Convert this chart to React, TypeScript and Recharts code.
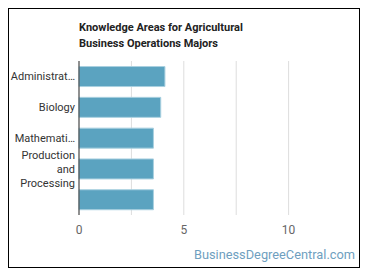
import { BarChart, Bar, XAxis, YAxis, CartesianGrid } from "recharts";

const categories = ["Administrat…", "Biology", "Mathemati…", "Production and Processing", ""];
const scores = [4.1, 3.9, 3.55, 3.55, 3.55];
const xTicks = [0, 2.5, 5, 7.5, 10];
const xMax = 12.5;

const data = categories.map((name, i) => ({ name, value: scores[i] }));

function CategoryTick({ x, y, payload }: any) {
  const label: string = payload.value || "";
  const lines = label.includes(" ") ? label.split(" ") : [label];
  const lineHeight = 14;
  const startY = y - ((lines.length - 1) * lineHeight) / 2;
  const tx = x + 4;
  return (
    <text x={tx} y={startY} textAnchor="end" fill="#333" fontSize={11} fontFamily="Roboto, sans-serif">
      {lines.map((line, i) => (
        <tspan key={i} x={tx} y={startY + i * lineHeight} dy="0.35em">
          {line}
        </tspan>
      ))}
    </text>
  );
}

// grid lines only at the listed ticks, not at the domain end
const gridX = ({ offset }: any) => xTicks.map((t) => offset.left + (t / xMax) * offset.width);

export default function App() {
  return (
    <div
      style={{
        position: "relative",
        width: 350,
        height: 258,
        border: "1px solid #000",
        fontFamily: "Roboto, sans-serif",
        background: "#fff",
      }}
    >
      <div
        style={{
          position: "absolute",
          left: 70,
          top: 11,
          fontSize: 11,
          fontWeight: "bold",
          lineHeight: "16px",
          color: "#222",
        }}
      >
        Knowledge Areas for Agricultural
        <br />
        Business Operations Majors
      </div>
      <BarChart
        width={350}
        height={258}
        data={data}
        layout="vertical"
        margin={{ top: 52, right: 18, bottom: 22, left: 0 }}
        barCategoryGap="18%"
      >
        <CartesianGrid horizontal={false} stroke="#ddd" verticalCoordinatesGenerator={gridX} />
        <XAxis
          type="number"
          domain={[0, xMax]}
          ticks={xTicks}
          tickFormatter={(v: number) => (v % 5 === 0 ? String(v) : "")}
          axisLine={false}
          tickLine={false}
          tick={{ fill: "#666", fontSize: 12, dy: 2 }}
          height={30}
        />
        <YAxis
          type="category"
          dataKey="name"
          width={70}
          axisLine={{ stroke: "#333" }}
          tickLine={false}
          tick={<CategoryTick />}
          interval={0}
        />
        <Bar dataKey="value" fill="#5ba3c0" stroke="#a9d0e0" strokeWidth={1} isAnimationActive={false} />
      </BarChart>
      <div
        style={{
          position: "absolute",
          right: 4,
          top: 238,
          fontSize: 12.8,
          color: "#6f9fbf",
        }}
      >
        BusinessDegreeCentral.com
      </div>
    </div>
  );
}
